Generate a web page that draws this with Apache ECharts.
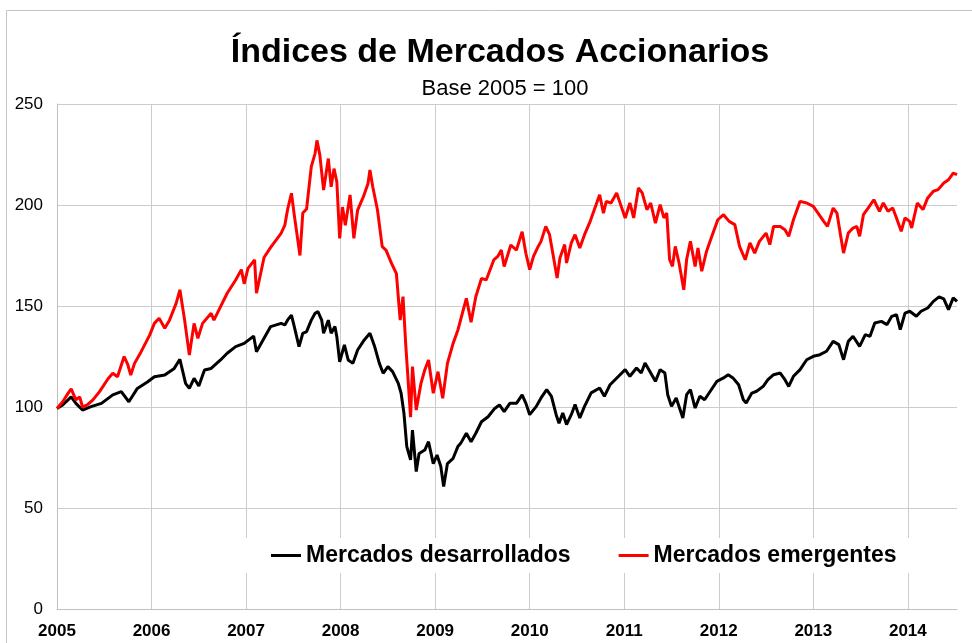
<!DOCTYPE html>
<html>
<head>
<meta charset="utf-8">
<script src="https://cdn.jsdelivr.net/npm/echarts@6/dist/echarts.min.js"></script>
<style>
  html, body { margin: 0; padding: 0; background: #fff; }
  #chart { width: 972px; height: 643px; }
</style>
</head>
<body>
<div id="chart"></div>
<script>
// años decimales (eje x) y niveles del índice, base 2005 = 100
var emergYears = [
  2005.00, 2005.06, 2005.12, 2005.15, 2005.20, 2005.24, 2005.27, 2005.32, 2005.38, 2005.45,
  2005.54, 2005.59, 2005.64, 2005.71, 2005.75, 2005.78, 2005.82, 2005.89, 2005.98, 2006.03,
  2006.08, 2006.14, 2006.19, 2006.26, 2006.30, 2006.35, 2006.40, 2006.45, 2006.49, 2006.54,
  2006.63, 2006.66, 2006.73, 2006.80, 2006.89, 2006.95, 2006.98, 2007.02, 2007.09, 2007.11,
  2007.19, 2007.26, 2007.37, 2007.41, 2007.44, 2007.48, 2007.51, 2007.57, 2007.60, 2007.64,
  2007.69, 2007.73, 2007.75, 2007.78, 2007.82, 2007.87, 2007.90, 2007.93, 2007.96, 2007.99,
  2008.02, 2008.05, 2008.10, 2008.14, 2008.18, 2008.24, 2008.29, 2008.31, 2008.34, 2008.39,
  2008.44, 2008.48, 2008.54, 2008.59, 2008.63, 2008.66, 2008.69, 2008.74, 2008.76, 2008.80,
  2008.85, 2008.89, 2008.93, 2008.98, 2009.03, 2009.08, 2009.13, 2009.19, 2009.24, 2009.33,
  2009.38, 2009.43, 2009.49, 2009.54, 2009.62, 2009.66, 2009.70, 2009.73, 2009.80, 2009.86,
  2009.92, 2009.96, 2010.00, 2010.04, 2010.09, 2010.12, 2010.17, 2010.21, 2010.25, 2010.29,
  2010.32, 2010.37, 2010.39, 2010.44, 2010.48, 2010.53, 2010.58, 2010.64, 2010.69, 2010.74,
  2010.78, 2010.81, 2010.86, 2010.92, 2010.95, 2011.01, 2011.06, 2011.10, 2011.15, 2011.19,
  2011.24, 2011.28, 2011.33, 2011.38, 2011.42, 2011.45, 2011.48, 2011.51, 2011.54, 2011.58,
  2011.63, 2011.66, 2011.70, 2011.75, 2011.78, 2011.82, 2011.87, 2011.92, 2011.99, 2012.05,
  2012.11, 2012.17, 2012.22, 2012.28, 2012.33, 2012.38, 2012.43, 2012.50, 2012.54, 2012.58,
  2012.65, 2012.70, 2012.74, 2012.79, 2012.86, 2012.93, 2013.00, 2013.05, 2013.11, 2013.15,
  2013.21, 2013.25, 2013.29, 2013.32, 2013.37, 2013.42, 2013.46, 2013.49, 2013.53, 2013.58,
  2013.64, 2013.70, 2013.74, 2013.79, 2013.84, 2013.88, 2013.93, 2013.97, 2014.02, 2014.04,
  2014.10, 2014.16, 2014.21, 2014.27, 2014.32, 2014.38, 2014.43, 2014.48, 2014.52
];
var emergValues = [
  99.3, 102.6, 107, 109, 103.5, 105, 100, 101, 103.5, 107.6,
  114, 116.7, 115, 125, 120.8, 115.8, 121.6, 127.4, 135.6, 141.4,
  143.9, 139, 143, 151.3, 158, 143, 125.7, 141.4, 134, 141.4,
  146.4, 143, 149.7, 156.3, 162.9, 168, 161, 168.6, 172.8, 156.3,
  174, 179, 186, 190, 198, 205.8, 195, 175, 196, 198,
  219, 225.6, 232, 224.8, 207.4, 223, 209, 218, 211.5, 183.5,
  199, 190, 205, 183.5, 197.5, 204, 210.7, 217.3, 209, 197.5,
  179.4, 177.7, 171, 166, 143, 154.6, 130, 95, 120, 98.5,
  111.7, 118.3, 123.3, 106.8, 117.5, 104.3, 121.6, 131.5, 138, 153.8,
  142, 154.6, 163.7, 162.9, 172.8, 174.4, 177.7, 169.5, 180.2, 177.7,
  186.8, 176, 168, 174.6, 179.5, 182, 189.4, 185.3, 174.6, 163.9,
  173.8, 180.4, 171.3, 181.2, 185.3, 178.7, 185.3, 191.9, 198.5, 205.1,
  196, 201.8, 201, 205.9, 201.8, 193.6, 201, 193.6, 208.4, 206,
  197.7, 201, 191, 200.2, 193.6, 196, 173, 169.6, 179.5, 171.3,
  158, 173, 182, 169.6, 178.7, 167.2, 177, 183.7, 192.7, 195.2,
  191.9, 190.3, 179.5, 172.9, 181.2, 176.2, 182, 186.1, 180.4, 189.4,
  189.4, 187.8, 184.5, 192.7, 201.8, 201, 199.3, 196, 191.9, 189.4,
  198.5, 196, 184.5, 176.2, 186.1, 188.6, 189.4, 184.5, 195.2, 198.5,
  202.6, 196.9, 201, 196.9, 198.5, 193.6, 187, 193.6, 191.9, 188.6,
  201, 197.7, 203.5, 206.8, 207.6, 210.9, 212.5, 215.8, 215
];

var devYears = [
  2005.00, 2005.06, 2005.15, 2005.20, 2005.27, 2005.36, 2005.47, 2005.59, 2005.68, 2005.76,
  2005.85, 2005.96, 2006.03, 2006.14, 2006.24, 2006.30, 2006.36, 2006.40, 2006.45, 2006.50,
  2006.56, 2006.63, 2006.73, 2006.80, 2006.89, 2006.98, 2007.08, 2007.11, 2007.19, 2007.26,
  2007.37, 2007.41, 2007.44, 2007.48, 2007.51, 2007.56, 2007.60, 2007.64, 2007.69, 2007.73,
  2007.76, 2007.80, 2007.82, 2007.87, 2007.90, 2007.94, 2007.96, 2007.99, 2008.04, 2008.08,
  2008.13, 2008.18, 2008.25, 2008.31, 2008.36, 2008.41, 2008.45, 2008.50, 2008.55, 2008.61,
  2008.64, 2008.67, 2008.70, 2008.74, 2008.76, 2008.80, 2008.83, 2008.89, 2008.93, 2008.98,
  2009.02, 2009.06, 2009.09, 2009.13, 2009.19, 2009.24, 2009.27, 2009.33, 2009.38, 2009.43,
  2009.49, 2009.56, 2009.63, 2009.68, 2009.73, 2009.79, 2009.86, 2009.92, 2009.96, 2010.00,
  2010.07, 2010.12, 2010.18, 2010.23, 2010.28, 2010.31, 2010.35, 2010.39, 2010.44, 2010.48,
  2010.53, 2010.58, 2010.65, 2010.74, 2010.79, 2010.85, 2010.94, 2011.01, 2011.06, 2011.13,
  2011.18, 2011.22, 2011.27, 2011.33, 2011.38, 2011.43, 2011.46, 2011.50, 2011.55, 2011.62,
  2011.66, 2011.70, 2011.75, 2011.80, 2011.85, 2011.91, 2011.98, 2012.05, 2012.10, 2012.15,
  2012.21, 2012.26, 2012.29, 2012.35, 2012.40, 2012.47, 2012.52, 2012.58, 2012.65, 2012.70,
  2012.74, 2012.79, 2012.86, 2012.93, 2013.00, 2013.07, 2013.14, 2013.21, 2013.27, 2013.32,
  2013.37, 2013.42, 2013.49, 2013.55, 2013.60, 2013.65, 2013.72, 2013.78, 2013.83, 2013.88,
  2013.92, 2013.97, 2014.02, 2014.09, 2014.14, 2014.21, 2014.27, 2014.33, 2014.38, 2014.43,
  2014.48, 2014.52
];
var devValues = [
  99.3, 101, 105, 101.8, 98.5, 100.2, 101.8, 106, 107.6, 102.6,
  109.2, 112.5, 115, 115.8, 119.1, 123.6, 111.7, 109.2, 114.2, 110.4,
  118.3, 119.1, 123.3, 126.6, 129.9, 131.5, 135.1, 127.4, 134, 139.8,
  141.4, 140.6, 143.1, 145.5, 139.8, 129.9, 136.5, 137.3, 143, 146.4,
  147.2, 143, 136.5, 143, 136.5, 139.8, 134.8, 122.4, 130.7, 123.3,
  121.6, 128.2, 133.2, 136.5, 129.9, 121.6, 116.7, 120, 117.5, 111.7,
  106.8, 96.9, 80.4, 73.8, 88.6, 68, 77, 78.7, 82.8, 72,
  76.2, 70.5, 60.6, 72, 74.6, 80.4, 82, 87, 82.8, 87,
  92.7, 95.2, 99.3, 101, 97.7, 101.8, 101.8, 106, 101.8, 96.2,
  100.3, 104.5, 108.6, 105.3, 96.2, 92, 97, 91.3, 96.2, 101.2,
  94.6, 100.3, 107, 109.4, 105.3, 111, 115.2, 118.5, 115.2, 119.3,
  116.8, 121.8, 117.7, 112.7, 118.5, 116.8, 106.1, 100.3, 104.5, 94.6,
  106.1, 108.6, 99.5, 105.3, 103.6, 107.8, 112.7, 114.4, 116, 114.4,
  111, 103.6, 102, 106.9, 107.8, 110.2, 113.5, 116, 116.8, 113.5,
  110.2, 115.2, 118.5, 123.4, 125.1, 125.9, 127.6, 132.5, 130.9, 123.4,
  132.5, 135, 130, 135.8, 135, 141.6, 142.4, 140.8, 144.9, 145.7,
  138.3, 146.5, 147.4, 144.9, 147.4, 149, 152.3, 154.5, 153.5, 148.2,
  154, 152.3
];

function zip(xs, ys) {
  return xs.map(function (x, i) { return [x, ys[i]]; });
}

var chart = echarts.init(document.getElementById('chart'), null, { renderer: 'canvas' });
var FONT = '"Liberation Sans", Arial, sans-serif';

chart.setOption({
  backgroundColor: '#fff',
  animation: false,
  textStyle: { fontFamily: FONT },
  title: [{
    text: 'Índices de Mercados Accionarios',
    left: 495, top: 31, textAlign: 'center',
    textStyle: { fontSize: 34, fontWeight: 'bold', color: '#000', fontFamily: FONT }
  }, {
    text: 'Base 2005 = 100',
    left: 500, top: 73, textAlign: 'center',
    textStyle: { fontSize: 22, fontWeight: 'normal', color: '#000', fontFamily: FONT }
  }],
  graphic: [{
    type: 'rect', silent: true, z: -1,
    shape: { x: 6.5, y: 10.5, width: 1000, height: 700 },
    style: { fill: 'none', stroke: '#c4c4c4', lineWidth: 1 }
  }],
  legend: {
    left: 245, top: 538,
    padding: [6, 62, 6, 26],
    backgroundColor: '#fff',
    itemWidth: 30, itemHeight: 3, itemGap: 48,
    icon: 'rect',
    textStyle: { fontSize: 23, fontWeight: 'bold', color: '#000', fontFamily: FONT },
    data: ['Mercados desarrollados', 'Mercados emergentes']
  },
  grid: { left: 57, right: 15, top: 104, bottom: 34 },
  xAxis: {
    type: 'value', min: 2005, max: 2014.52, interval: 1,
    axisLine: { show: true, lineStyle: { color: '#bfbfbf', width: 1 } },
    axisTick: { show: false },
    axisLabel: {
      margin: 14, color: '#000', fontSize: 17, fontWeight: 'bold', fontFamily: FONT,
      showMaxLabel: false,
      formatter: function (v) { return Math.abs(v - Math.round(v)) < 1e-6 ? String(Math.round(v)) : ''; }
    },
    splitLine: { show: true, showMaxLine: false, lineStyle: { color: '#cccccc', width: 1 } }
  },
  yAxis: {
    type: 'value', min: 0, max: 250, interval: 50,
    axisLine: { show: true, lineStyle: { color: '#bfbfbf', width: 1 } },
    axisTick: { show: false },
    axisLabel: { margin: 14, color: '#000', fontSize: 17, fontFamily: FONT },
    splitLine: { show: true, lineStyle: { color: '#cccccc', width: 1 } }
  },
  series: [{
    name: 'Mercados desarrollados',
    type: 'line', showSymbol: false, symbol: 'none',
    itemStyle: { color: '#000' },
    lineStyle: { color: '#000', width: 3 },
    data: zip(devYears, devValues)
  }, {
    name: 'Mercados emergentes',
    type: 'line', showSymbol: false, symbol: 'none',
    itemStyle: { color: '#ff0000' },
    lineStyle: { color: '#ff0000', width: 3 },
    data: zip(emergYears, emergValues)
  }]
});
</script>
</body>
</html>
